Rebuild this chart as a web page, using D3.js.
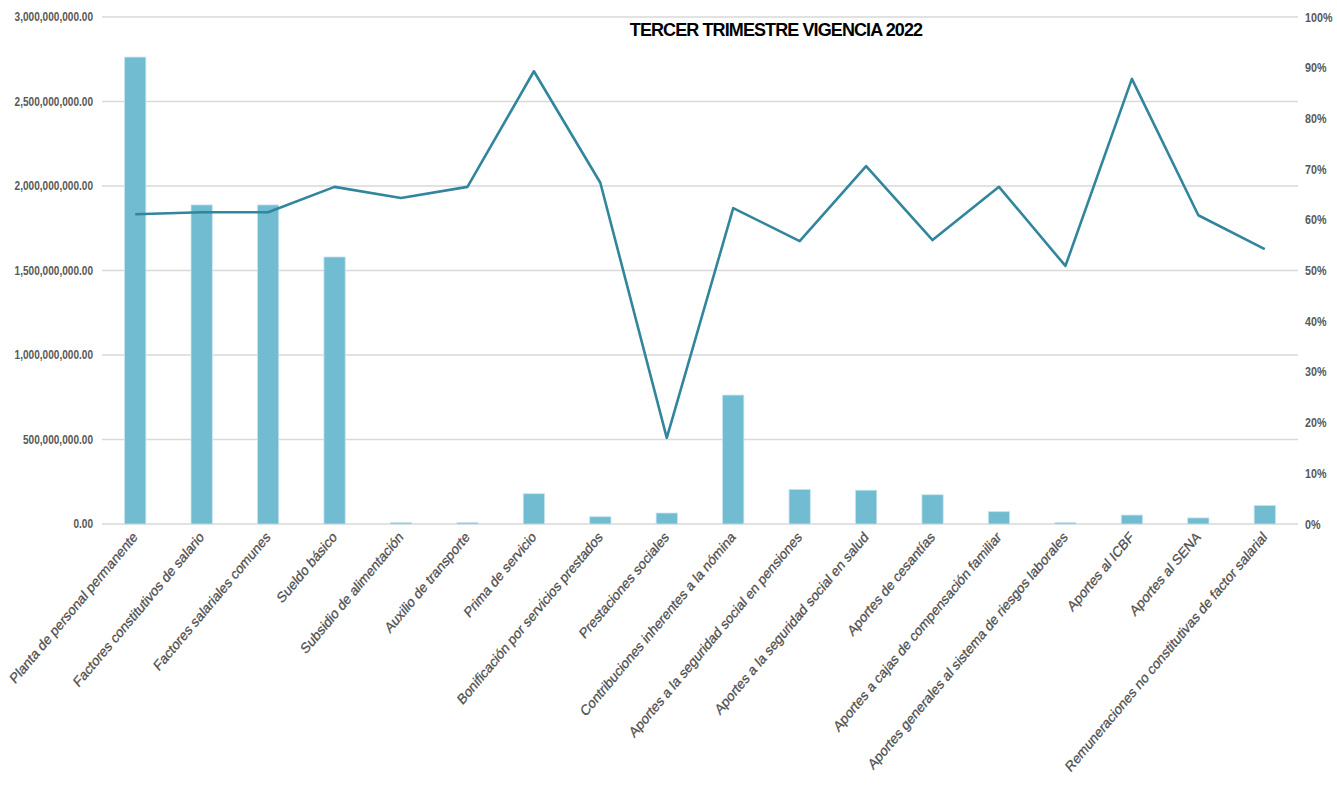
<!DOCTYPE html>
<html>
<head>
<meta charset="utf-8">
<script src="https://cdn.jsdelivr.net/npm/d3@7"></script>
<style>
  body { margin: 0; background: #fff; }
  text { font-family: "Liberation Sans", Arial, sans-serif; }
</style>
</head>
<body>
<div id="chart"></div>
<script>
const categories = [
    'Planta de personal permanente',
    'Factores constitutivos de salario',
    'Factores salariales comunes',
    'Sueldo básico',
    'Subsidio de alimentación',
    'Auxilio de transporte',
    'Prima de servicio',
    'Bonificación por servicios prestados',
    'Prestaciones sociales',
    'Contribuciones inherentes a la nómina',
    'Aportes a la seguridad social en pensiones',
    'Aportes a la seguridad social en salud',
    'Aportes de cesantías',
    'Aportes a cajas de compensación familiar',
    'Aportes generales al sistema de riesgos laborales',
    'Aportes al ICBF',
    'Aportes al SENA',
    'Remuneraciones no constitutivas de factor salarial'
]

// executed amounts (bars, left axis)
const amounts = [
    2763000000, 1888000000, 1888000000, 1580000000, 8000000, 8000000,
    179000000, 43000000, 65000000, 763000000, 205000000, 200000000,
    173000000, 73000000, 8000000, 53000000, 36000000, 110000000
]

// execution percentage (line, right axis)
const percents = [
    0.611, 0.615, 0.615, 0.665, 0.643, 0.665,
    0.893, 0.673, 0.170, 0.623, 0.558, 0.706,
    0.560, 0.665, 0.509, 0.878, 0.609, 0.542
]

const leftTicks = [0, 500000000, 1000000000, 1500000000, 2000000000, 2500000000, 3000000000]
const rightTicks = [0, 0.1, 0.2, 0.3, 0.4, 0.5, 0.6, 0.7, 0.8, 0.9, 1]

const W = 1337, H = 786
const plot = { left: 102, right: 1298, top: 17, bottom: 524 }

const svg = d3.select('#chart')
    .append('svg')
    .attr('width', W)
    .attr('height', H)

const x = d3.scaleBand()
    .domain(categories)
    .range([plot.left, plot.right])
    .paddingInner(0.68)
    .paddingOuter(0.34)

const yLeft = d3.scaleLinear()
    .domain([0, 3000000000])
    .range([plot.bottom, plot.top])

const yRight = d3.scaleLinear()
    .domain([0, 1])
    .range([plot.bottom, plot.top])

const fmt = d3.format(',.2f')

// gridlines
svg.append('g')
    .selectAll('line')
    .data(leftTicks)
    .enter()
    .append('line')
    .attr('x1', plot.left)
    .attr('x2', plot.right)
    .attr('y1', d => yLeft(d))
    .attr('y2', d => yLeft(d))
    .style('stroke', '#d9d9d9')
    .style('stroke-width', 1.3)

// left axis (text squeezed horizontally, the original uses a narrow face)
const leftAxis = svg.append('g')
    .attr('transform', `translate(${plot.left - 9},0)`)
    .call(d3.axisLeft(yLeft).tickValues(leftTicks).tickFormat(fmt).tickSize(0).tickPadding(0))
leftAxis.select('.domain').remove()
leftAxis.selectAll('text')
    .attr('x', 0)
    .attr('transform', 'scale(0.84,1)')
    .style('font-size', '12px')
    .style('font-weight', 'bold')
    .style('fill', '#595959')

// right axis
const rightAxis = svg.append('g')
    .attr('transform', `translate(${plot.right + 7},0)`)
    .call(d3.axisRight(yRight).tickValues(rightTicks).tickFormat(d3.format('.0%')).tickSize(0).tickPadding(0))
rightAxis.select('.domain').remove()
rightAxis.selectAll('text')
    .attr('x', 0)
    .attr('transform', 'scale(0.86,1)')
    .style('font-size', '12.5px')
    .style('font-weight', 'bold')
    .style('fill', '#595959')

// bars
svg.append('g')
    .selectAll('rect')
    .data(amounts)
    .enter()
    .append('rect')
    .attr('x', (d, i) => x(categories[i]))
    .attr('width', x.bandwidth())
    .attr('y', d => yLeft(d))
    .attr('height', d => Math.max(1, plot.bottom - yLeft(d)))
    .style('fill', '#71bcd1')
    .style('stroke', '#c6e4ee')
    .style('stroke-width', 0.8)

// percentage line
const line = d3.line()
    .x((d, i) => x(categories[i]) + x.bandwidth() / 2)
    .y(d => yRight(d))

svg.append('path')
    .datum(percents)
    .attr('d', line)
    .style('fill', 'none')
    .style('stroke', '#31859c')
    .style('stroke-width', 2.6)
    .style('stroke-linejoin', 'round')

// category labels, slanted and stretched vertically like the original image
svg.append('g')
    .selectAll('text')
    .data(categories)
    .enter()
    .append('text')
    .attr('transform', d => `translate(${x(d) + x.bandwidth() / 2 + 3},${plot.bottom + 14}) scale(1,1.19) rotate(-45)`)
    .style('text-anchor', 'end')
    .style('font-size', '12.5px')
    .style('fill', '#505050')
    .style('stroke', '#505050')
    .style('stroke-width', 0.25)
    .text(d => d)

// title
svg.append('text')
    .attr('x', 776)
    .attr('y', 36)
    .style('text-anchor', 'middle')
    .style('font-size', '18px')
    .style('font-weight', 'bold')
    .style('letter-spacing', '-0.9px')
    .style('fill', '#000')
    .text('TERCER TRIMESTRE VIGENCIA 2022')
</script>
</body>
</html>
